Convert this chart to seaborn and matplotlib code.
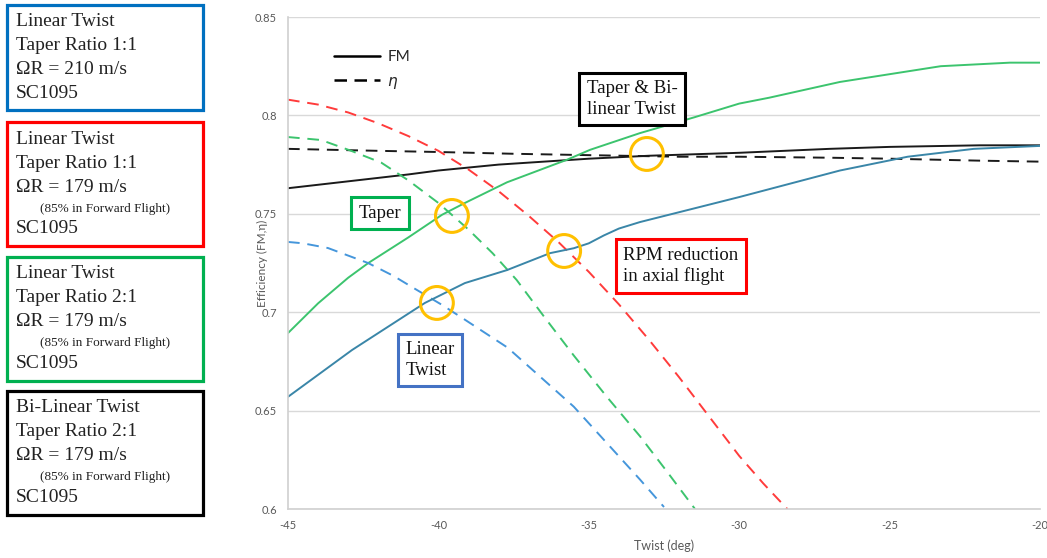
import numpy as np
import pandas as pd
import matplotlib
matplotlib.use("Agg")
import matplotlib.pyplot as plt
import seaborn as sns
from matplotlib.lines import Line2D
from matplotlib.patches import Rectangle

# ---------------- data ----------------
bl_fm_x = [-45, -43, -41, -40, -38, -36, -35, -33, -30, -27, -25, -22, -20]
bl_fm_y = [0.763, 0.7665, 0.770, 0.772, 0.775, 0.777, 0.778, 0.7795, 0.781, 0.783, 0.784, 0.7848, 0.7848]

bl_eta_x = [-45, -42, -40, -37.5, -35, -32, -30, -27, -25, -22, -20]
bl_eta_y = [0.783, 0.782, 0.7814, 0.7805, 0.7798, 0.779, 0.779, 0.7785, 0.778, 0.777, 0.7765]

tp_fm_x = [-45, -44, -43, -42.33, -41, -39.88, -39.12, -37.72, -35.72, -34.96, -33.3,
           -31.5, -30, -29, -26.65, -23.3, -21, -20]
tp_fm_y = [0.6894, 0.7045, 0.7175, 0.725, 0.738, 0.7495, 0.7555, 0.766, 0.7775, 0.7825, 0.791,
           0.799, 0.806, 0.809, 0.817, 0.825, 0.8268, 0.8268]

tp_eta_x = [-45, -43.9, -42.9, -41.9, -41.0, -40.0, -39.0, -38.2, -37.4, -36.5, -35.5,
            -34.4, -33.3, -32.4, -31.47]
tp_eta_y = [0.789, 0.7875, 0.782, 0.776, 0.767, 0.7555, 0.742, 0.730, 0.7164, 0.698, 0.678,
            0.657, 0.637, 0.619, 0.600]

rpm_eta_x = [-45, -44, -43, -42, -41, -40, -39, -38, -37, -36, -35, -34, -33, -32, -31,
             -30, -29.2, -28.4]
rpm_eta_y = [0.808, 0.8055, 0.8015, 0.796, 0.7895, 0.782, 0.7725, 0.7615, 0.749, 0.7355,
             0.7205, 0.704, 0.686, 0.667, 0.647, 0.627, 0.613, 0.600]

lin_eta_x = [-45, -44.5, -43.67, -42.34, -41.5, -40.88, -39.88, -39.2, -37.7, -35.5, -33.3, -32.5]
lin_eta_y = [0.7357, 0.735, 0.7326, 0.725, 0.7185, 0.7128, 0.7037, 0.697, 0.682, 0.652, 0.615, 0.601]

lin_fm_x = [-45, -42.87, -40.45, -39.12, -37.72, -36.29, -35.5, -35.0, -34.5, -34.0, -33.3,
            -30, -26.65, -24.4, -22.2, -20]
lin_fm_y = [0.657, 0.6808, 0.7047, 0.7148, 0.7214, 0.730, 0.7325, 0.735, 0.739, 0.7425, 0.7458,
            0.7585, 0.772, 0.779, 0.783, 0.7845]

circle_x = [-39.55, -35.82, -40.05, -33.07]
circle_y = [0.7489, 0.7311, 0.7047, 0.7804]

x_ticks = [-45, -40, -35, -30, -25, -20]
y_ticks = [0.6, 0.65, 0.7, 0.75, 0.8, 0.85]
y_tick_labels = ["0.6", "0.65", "0.7", "0.75", "0.8", "0.85"]

# ---------------- style ----------------
sns.set_theme(style="white")
plt.rcParams['font.family'] = ['Lato', 'DejaVu Sans']

GREEN = "#3CC46E"
RED = "#FF3B3B"
BLUE = "#4596DB"
TEAL = "#3A86A8"
BLACK = "#1a1a1a"
ORANGE = "#FFC000"
GRAY_TXT = "#595959"
SERIF = "Liberation Serif"

W, H = 1047, 558
fig = plt.figure(figsize=(W / 100, H / 100), dpi=100)
L, R, T, B = 288, 1040, 17, 509
ax = fig.add_axes([L / W, 1 - B / H, (R - L) / W, (B - T) / H])


def fr(px, py):
    return ((px - L) / (R - L), (B - py) / (B - T))


def series(x, y, color, ls, lw=1.4):
    df = pd.DataFrame({"x": x, "y": y})
    sns.lineplot(data=df, x="x", y="y", ax=ax, color=color, linestyle=ls,
                 linewidth=lw, sort=False, estimator=None)


dash = (6, 4)
series(bl_fm_x, bl_fm_y, BLACK, "-")
series(bl_eta_x, bl_eta_y, BLACK, (0, dash))
series(tp_fm_x, tp_fm_y, GREEN, "-")
series(tp_eta_x, tp_eta_y, GREEN, (0, dash))
series(rpm_eta_x, rpm_eta_y, RED, (0, dash))
series(lin_eta_x, lin_eta_y, BLUE, (0, dash))
series(lin_fm_x, lin_fm_y, TEAL, "-")

sns.scatterplot(x=circle_x, y=circle_y, ax=ax, s=560, marker="o",
                facecolors="none", edgecolor=ORANGE, linewidth=2.2, zorder=5)

ax.set_xlim(-45, -20)
ax.set_ylim(0.6, 0.85)
ax.set_xticks(x_ticks)
ax.set_xticklabels([str(v) for v in x_ticks])
ax.set_yticks(y_ticks)
ax.set_yticklabels(y_tick_labels)
ax.tick_params(axis="both", labelsize=8, colors=GRAY_TXT, length=0, pad=8)
ax.grid(axis="y", color="#d9d9d9", linewidth=1)
ax.grid(axis="x", visible=False)
for s in ["top", "right"]:
    ax.spines[s].set_visible(False)
for s in ["left", "bottom"]:
    ax.spines[s].set_color("#d0d0d0")
    ax.spines[s].set_linewidth(1.2)
ax.set_xlabel("Twist (deg)", fontsize=9, color=GRAY_TXT, labelpad=6)
ax.set_ylabel("Efficiency (FM,η)", fontsize=8.5, color=GRAY_TXT)
ax.yaxis.set_label_coords(*fr(268, 263))

# legend
handles = [Line2D([], [], color="black", lw=1.8, ls="-"),
           Line2D([], [], color="black", lw=1.8, ls=(0, (5, 3)))]
leg = ax.legend(handles, ["FM", r"$\eta$"], loc="upper left",
                bbox_to_anchor=fr(334, 50), frameon=False, fontsize=11,
                handlelength=3.0, handletextpad=0.5, labelspacing=0.7,
                borderaxespad=0, borderpad=0)

# in-plot annotation boxes
def ann(px, py, text, color):
    fx, fy = fr(px, py)
    ax.text(fx, fy, text, transform=ax.transAxes, ha="center", va="center",
            family=SERIF, fontsize=13.5, color="#111111", linespacing=1.25,
            multialignment="left", zorder=6,
            bbox=dict(boxstyle="square,pad=0.4", fc="white", ec=color, lw=2.2))

ann(632, 99, "Taper & Bi-\nlinear Twist", "black")
ann(380, 213, "Taper", "#00B050")
ann(681, 266, "RPM reduction\nin axial flight", "#FF0000")
ann(430, 360, "Linear\nTwist", "#4472C4")

# left-side description boxes
boxes = [
    ("#0070C0", 5, 110, [("Linear Twist", 22, 0), ("Taper Ratio 1:1", 46, 0),
                         ("ΩR = 210 m/s", 70, 0), ("SC1095", 94, 0)]),
    ("#FF0000", 122, 246, [("Linear Twist", 139, 0), ("Taper Ratio 1:1", 163, 0),
                           ("ΩR = 179 m/s", 187, 0), ("(85% in Forward Flight)", 209, 1),
                           ("SC1095", 229, 0)]),
    ("#00B050", 257, 381, [("Linear Twist", 273, 0), ("Taper Ratio 2:1", 297, 0),
                           ("ΩR = 179 m/s", 321, 0), ("(85% in Forward Flight)", 343, 1),
                           ("SC1095", 364, 0)]),
    ("#000000", 391, 515, [("Bi-Linear Twist", 407, 0), ("Taper Ratio 2:1", 431, 0),
                           ("ΩR = 179 m/s", 455, 0), ("(85% in Forward Flight)", 477, 1),
                           ("SC1095", 498, 0)]),
]
for color, y0, y1, lines in boxes:
    fig.patches.append(Rectangle((7 / W, 1 - y1 / H), (203 - 7) / W, (y1 - y0) / H,
                                 transform=fig.transFigure, fill=False,
                                 ec=color, lw=2.3))
    for txt, yy, small in lines:
        if small:
            fig.text(40 / W, 1 - yy / H, txt, family=SERIF, fontsize=9.5,
                     color="#222222", va="center", ha="left")
        else:
            fig.text(16 / W, 1 - yy / H, txt, family=SERIF, fontsize=14,
                     color="#222222", va="center", ha="left")

fig.savefig("out.png", dpi=100)
